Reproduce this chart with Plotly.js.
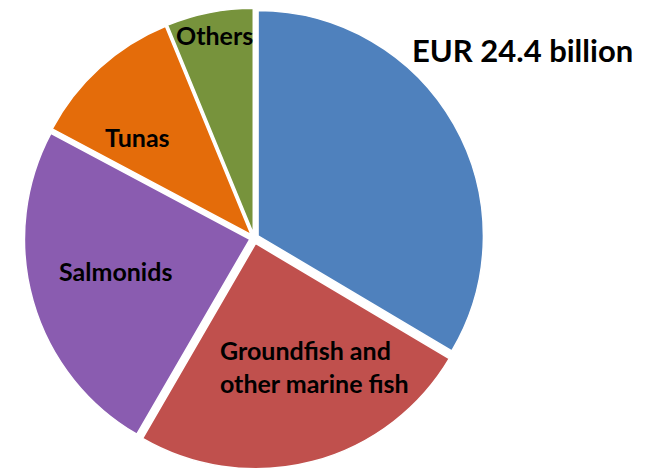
<!DOCTYPE html>
<html>
<head>
<meta charset="utf-8">
<script src="https://cdn.plot.ly/plotly-3.0.1.min.js"></script>
<style>html,body{margin:0;padding:0;background:#fff;}#chart{width:650px;height:469px;}</style>
</head>
<body>
<div id="chart"></div>
<script>
// Data (shares, %)
const categories = ["Other species", "Groundfish and other marine fish", "Salmonids", "Tunas", "Others"];
const shares = [33.5, 24.8, 24.4, 11.0, 6.2];
const sliceLabels = ["", "Groundfish and<br>other marine fish", "Salmonids", "Tunas", "Others"];
const colors = ["#4F81BD", "#C0504D", "#8A5CB0", "#E46C0A", "#77933C"];
const totalText = "EUR 24.4 billion";

const font = "Lato, 'Open Sans', sans-serif";

const trace = {
  type: "pie",
  labels: categories,
  values: shares,
  sort: false,
  direction: "clockwise",
  rotation: 0,
  textinfo: "none",
  hoverinfo: "label+percent",
  pull: [0.02, 0.025, 0.02, 0.02, 0.02],
  marker: {colors: colors, line: {color: "#ffffff", width: 1.5}},
  domain: {x: [0.035, 0.747], y: [0.0, 0.985]},
  showlegend: false
};

// label anchor positions (paper coords)
const labelPos = [null, [218/650, 1-366/469, "left"], [115/650, 1-271/469, "center"], [137/650, 1-137/469, "center"], [214/650, 1-35/469, "center"]];
const annotations = [];
sliceLabels.forEach((t, i) => {
  if (!t) return;
  const p = labelPos[i];
  annotations.push({
    text: "<b>" + t + "</b>", xref: "paper", yref: "paper",
    x: p[0], y: p[1], xanchor: p[2], yanchor: "middle", align: "left",
    showarrow: false, font: {family: font, size: 25, color: "#000"}
  });
});
annotations.push({
  text: "<b>" + totalText + "</b>", xref: "paper", yref: "paper",
  x: 522/650, y: 1-50/469, xanchor: "center", yanchor: "middle",
  showarrow: false, font: {family: font, size: 31, color: "#000"}
});

const layout = {
  width: 650, height: 469,
  margin: {l: 0, r: 0, t: 0, b: 0},
  paper_bgcolor: "#ffffff",
  plot_bgcolor: "#ffffff",
  annotations: annotations,
  font: {family: font}
};

Plotly.newPlot("chart", [trace], layout, {displayModeBar: false, staticPlot: true});
</script>
</body>
</html>
